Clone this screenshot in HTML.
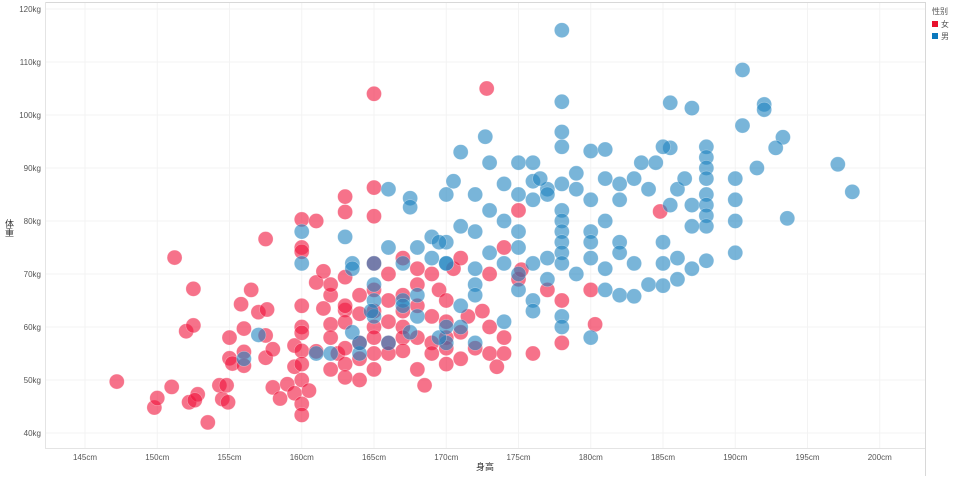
<!DOCTYPE html>
<html><head><meta charset="utf-8"><style>
body{margin:0;background:#fff;font-family:"Liberation Sans","Noto Sans CJK SC",sans-serif;}
svg text{font-family:"Liberation Sans","Noto Sans CJK SC",sans-serif;}
</style></head><body>
<svg id="chart" width="960" height="476" xmlns="http://www.w3.org/2000/svg">
<g id="grid"></g>
<g id="ticks"></g>
<g id="female"></g>
<g id="male"></g>
<line x1="45" y1="2.5" x2="925" y2="2.5" stroke="#d8d8d8"/>
<line x1="925.5" y1="2" x2="925.5" y2="476" stroke="#d8d8d8"/>
<line x1="45.5" y1="2" x2="45.5" y2="448" stroke="#e4e4e4"/>
<line x1="45" y1="448.5" x2="925" y2="448.5" stroke="#e4e4e4"/>
<text x="485" y="470" font-size="9" fill="#333" text-anchor="middle">身高</text>
<text x="9" y="228" font-size="9" fill="#333" text-anchor="middle" writing-mode="tb">体重</text>
<g>
<text x="932" y="14" font-size="8" fill="#555">性别</text>
<rect x="932" y="21" width="6" height="6" fill="#e8112d"/>
<text x="941" y="27" font-size="8" fill="#555">女</text>
<rect x="932" y="33" width="6" height="6" fill="#0b78bd"/>
<text x="941" y="39" font-size="8" fill="#555">男</text>
</g>
</svg>
<script>
const xTicks=[145,150,155,160,165,170,175,180,185,190,195,200];
const yTicks=[40,50,60,70,80,90,100,110,120];
const female=[[147.2,49.7],[149.8,44.8],[150,46.6],[151,48.7],[151.2,73.1],[152,59.2],[152.2,45.8],[152.5,60.3],[152.5,67.2],[152.8,47.3],[152.6,46.2],[153.5,42],[154.3,49],[154.5,46.4],[154.8,49],[154.9,45.8],[155,54.1],[155,58],[155.2,53.1],[155.8,64.3],[156,59.7],[156,55.3],[156.5,67],[156,52.7],[157,62.8],[157.5,76.6],[157.5,58.4],[157.5,54.2],[157.6,63.3],[158,48.6],[158,55.8],[158.5,46.5],[159,49.2],[159.5,56.5],[159.5,52.5],[159.5,47.5],[160,80.3],[160,75],[160,74.2],[160,64],[160,60],[160,58.9],[160,55.5],[160,53],[160,50],[160,45.5],[160,43.4],[160.5,48],[161,80],[161,68.4],[161,55.4],[161.5,70.5],[161.5,63.5],[162,66],[162,60.5],[162,58],[162,52],[162.5,55],[163,84.6],[163,81.7],[163,69.4],[163,63.2],[163,60.9],[163,56],[163,53],[163,50.5],[164,62.5],[164,57],[164,54],[164,50],[165,104],[165,86.3],[165,80.9],[165,72],[165,67],[165,63],[165,60],[165,58],[165,55],[165,52],[166,70],[166,61],[166,57],[166,55],[167,73],[167,66],[167,63],[167,60],[167,58],[167,55.5],[168,71],[168,64],[168,58],[168,52],[168.5,49],[169,62],[169,57],[169,55],[169.5,67],[170,65],[170,61],[170,58],[170,56],[170,53],[170.5,71],[171,59],[171,54],[171.5,62],[172,56],[172.5,63],[172.8,105],[173,60],[173,55],[173.5,52.5],[174,75],[174,58],[174,55],[175,82],[175,69],[175.2,70.8],[176,55],[177,67],[178,65],[178,57],[180,67],[180.3,60.5],[173,70],[171,73],[169,70],[164,66],[162,68],[166,65],[168,68],[163,64],[184.8,81.8]];
const male=[[178,116],[190.5,108.5],[178,102.5],[185.5,102.3],[187,101.3],[192,102],[192,101],[190.5,98],[193.3,95.8],[172.7,95.9],[178,96.8],[192.8,93.8],[171,93],[175,91],[180,93.2],[181,93.5],[185.5,93.8],[188,94],[188,92],[188,90],[188,88],[178,94],[173,91],[174,87],[176,87.5],[177,86],[181,88],[183,88],[184,86],[186,86],[186.5,88],[183.5,91],[184.5,91],[170.5,87.5],[166,86],[167.5,84.3],[167.5,82.6],[170,85],[172,85],[175,85],[176,84],[177,85],[179,86],[180,84],[182,84],[185.5,83],[187,83],[188,85],[188,83],[188,81],[188,79],[190,84],[190,80],[190,74],[193.6,80.5],[197.1,90.7],[198.1,85.5],[191.5,90],[178,82],[178,80],[178,78],[178,76],[178,74],[178,72],[180,78],[180,76],[180,73],[182,76],[182,74],[183,72],[185,76],[185,72],[186,73],[187,79],[175,78],[174,80],[173,82],[172,78],[171,79],[170,76],[169,77],[168,75],[166,75],[165,72],[167,72],[169,73],[170,72],[172,71],[173,74],[174,72],[175,70],[176,72],[177,73],[175,67],[177,69],[176,65],[178,62],[178,60],[180,58],[179,70],[181,71],[181,67],[182,66],[184,68],[186,69],[188,72.5],[187,71],[183,65.8],[185,67.8],[172,68],[172,66],[171,64],[171,60],[170,57],[168,66],[168,62],[167,65],[167,64],[165,68],[165,65],[165,62],[163.5,72],[163.5,71],[160,72],[164.8,63],[163.5,59],[161,55],[162,55],[164,55],[166,57],[167.5,59],[169.5,58],[170,60],[172,57],[174,61],[176,63],[164,57],[157,58.5],[156,54],[160,78],[163,77],[169.5,76],[170,72],[175,75],[176.5,88],[176,91],[178,87],[179,89],[181,80],[182,87],[185,94],[190,88]];
const NS='http://www.w3.org/2000/svg';
function xs(v){return 85+(v-145)*14.45;}
function ys(v){return 433-(v-40)*5.3;}
const grid=document.getElementById('grid'),ticks=document.getElementById('ticks');
xTicks.forEach(t=>{
 const l=document.createElementNS(NS,'line');
 
 
 l.setAttribute('x1',xs(t));l.setAttribute('x2',xs(t));l.setAttribute('y1',3);l.setAttribute('y2',448);
 l.setAttribute('stroke','#f3f3f3');grid.appendChild(l);
 const tx=document.createElementNS(NS,'text');
 
 
 tx.setAttribute('x',xs(t));tx.setAttribute('y',460);tx.setAttribute('font-size','8');tx.setAttribute('fill','#555');tx.setAttribute('text-anchor','middle');
 tx.textContent=t+'cm';ticks.appendChild(tx);
});
yTicks.forEach(t=>{
 const l=document.createElementNS(NS,'line');
 
 
 l.setAttribute('x1',46);l.setAttribute('x2',925);l.setAttribute('y1',ys(t));l.setAttribute('y2',ys(t));
 l.setAttribute('stroke','#f3f3f3');grid.appendChild(l);
 const tx=document.createElementNS(NS,'text');
 
 
 tx.setAttribute('x',41);tx.setAttribute('y',ys(t)+3);tx.setAttribute('font-size','8');tx.setAttribute('fill','#555');tx.setAttribute('text-anchor','end');
 tx.textContent=t+'kg';ticks.appendChild(tx);
});
function draw(data,gid,color,name){
 const g=document.getElementById(gid);
 data.forEach(d=>{
  const c=document.createElementNS(NS,'circle');
  
  
  c.setAttribute('cx',xs(d[0]));c.setAttribute('cy',ys(d[1]));c.setAttribute('r',7.5);
  c.setAttribute('fill',color);c.setAttribute('fill-opacity','0.6');
  c.setAttribute('stroke','#fff');c.setAttribute('stroke-opacity','0.4');c.setAttribute('stroke-width','0.6');
  g.appendChild(c);
 });
}
draw(female,'female','#f0143c','female-point');
draw(male,'male','#1f84bf','male-point');
</script>
</body></html>
